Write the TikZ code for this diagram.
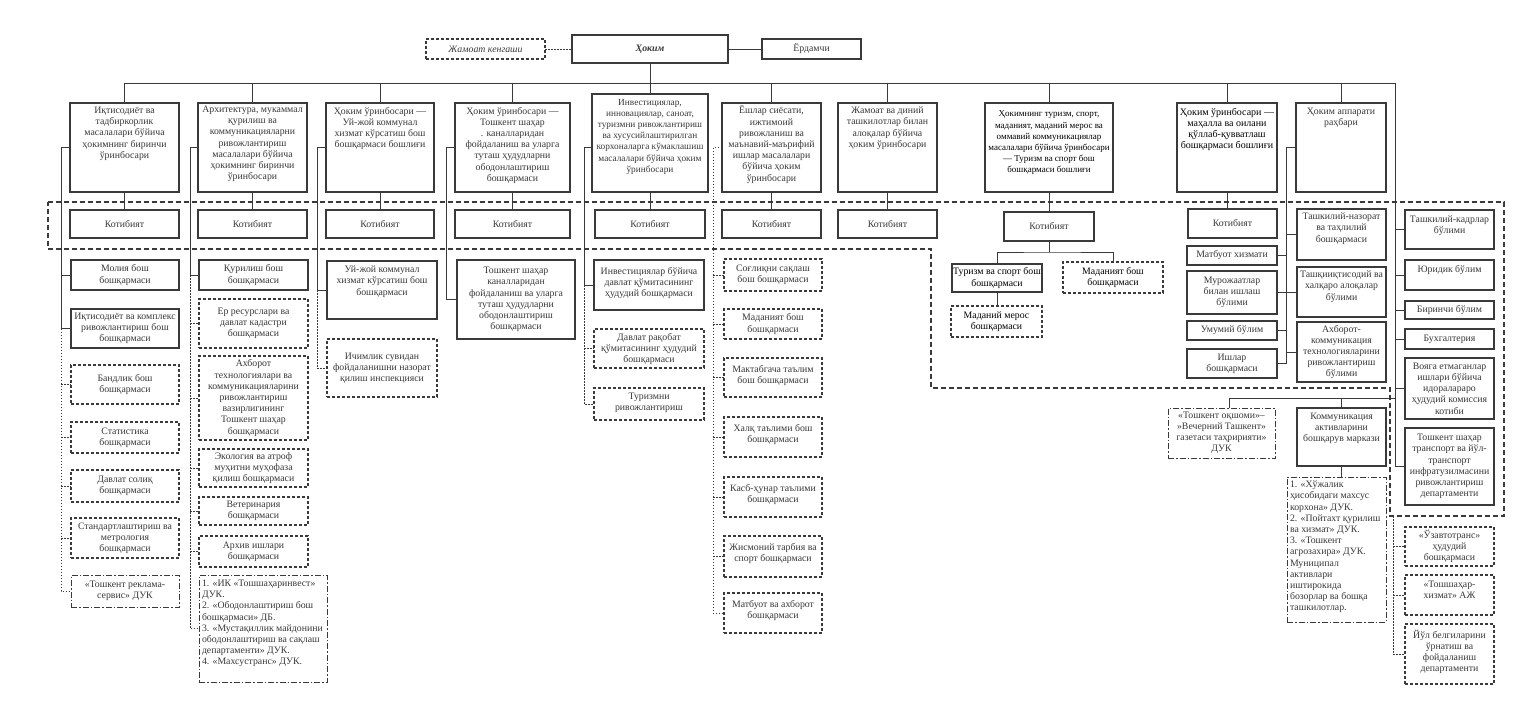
\documentclass[tikz,border=0pt]{standalone}
\usepackage{fontspec}
\setmainfont{Liberation Serif}
\definecolor{linec}{HTML}{3A3A3A}
\definecolor{txtc}{HTML}{383838}
\newcommand\cbx[7]{\node[#2,fill=white,anchor=north west,minimum width={#5pt-#3pt},minimum height={#6pt-#4pt}] (#1) at (#3,#4) {#7};}
\newcommand\tbx[8]{\node[#2,fill=white,anchor=north west,minimum width={#5pt-#3pt},minimum height={#6pt-#4pt}] (#1) at (#3,#4) {};\node[anchor=north] (#1t) at ([yshift=-#8pt]#1.north) {#7};}
\newcommand\lbx[8]{\node[#2,fill=white,anchor=north west,minimum width={#5pt-#3pt},minimum height={#6pt-#4pt}] (#1) at (#3,#4) {};\node[anchor=north west,align=left] (#1t) at ([xshift=2pt,yshift=-#8pt]#1.north west) {#7};}
\begin{document}
\begin{tikzpicture}[x=1pt,y=-1pt,
  every node/.style={inner sep=1pt, outer sep=0pt, align=center, font=\fontsize{9.8}{11.2}\selectfont, text=txtc},
  sb/.style={draw=linec, line width=1.1pt},
  bb/.style={draw=linec, line width=1.8pt},
  db/.style={draw=linec, line width=1.1pt, dash pattern=on 3pt off 2pt},
  ddb/.style={draw=linec, line width=0.9pt, dash pattern=on 6pt off 2pt on 1.5pt off 2pt},
  conn/.style={draw=linec, line width=1pt},
  dotc/.style={draw=linec, line width=0.9pt, dash pattern=on 1.5pt off 1.5pt},
  region/.style={draw=linec, line width=1.4pt, dash pattern=on 5pt off 3pt},
]
\useasboundingbox (0,0) rectangle (1537,705);
\fill[white] (0,0) rectangle (1537,705);

% dashed region
\draw[region] (48,202) -- (1504,202) -- (1504,516) -- (1390,516) -- (1390,388) -- (931,388) -- (931,249) -- (48,249) -- cycle;

% top
\cbx{hokim}{bb}{572}{35}{728}{63}{\bfseries\itshape Ҳоким}
\cbx{jamoat}{db}{426}{39}{545}{59}{\itshape Жамоат кенгаши}
\cbx{yordam}{sb}{762}{39}{861}{59}{Ёрдамчи}
\draw[dotc] (jamoat.east) -- (hokim.west);
\draw[conn] (hokim.east) -- (yordam.west);

% columns
\tbx{c1}{sb}{70}{103}{179}{192}{Иқтисодиёт ва\\тадбиркорлик\\масалалари бўйича\\ҳокимнинг биринчи\\ўринбосари}{3}
\tbx{c2}{sb}{198}{103}{307}{192}{Архитектура, мукаммал\\қурилиш ва\\коммуникацияларни\\ривожлантириш\\масалалари бўйича\\ҳокимнинг биринчи\\ўринбосари}{2}
\tbx{c3}{sb}{326}{103}{434}{192}{Ҳоким ўринбосари —\\Уй-жой коммунал\\хизмат кўрсатиш бош\\бошқармаси бошлиғи}{3}
\tbx{c4}{sb}{455}{103}{570}{192}{Ҳоким ўринбосари —\\Тошкент шаҳар\\. каналларидан\\фойдаланиш ва уларга\\туташ ҳудудларни\\ободонлаштириш\\бошқармаси}{3}
\tbx{c5}{sb}{592}{94}{708}{192}{\fontsize{9.3}{11.2}\selectfont Инвестициялар,\\\fontsize{9.3}{11.2}\selectfont инновациялар, саноат,\\\fontsize{9.3}{11.2}\selectfont туризмни ривожлантириш\\\fontsize{9.3}{11.2}\selectfont ва хусусийлаштирилган\\\fontsize{9.3}{11.2}\selectfont корхоналарга кўмаклашиш\\\fontsize{9.3}{11.2}\selectfont масалалари бўйича ҳоким\\\fontsize{9.3}{11.2}\selectfont ўринбосари}{4}
\tbx{c6}{sb}{722}{103}{821}{192}{Ёшлар сиёсати,\\ижтимоий\\ривожланиш ва\\маънавий-маърифий\\ишлар масалалари\\бўйича ҳоким\\ўринбосари}{2}
\tbx{c7}{sb}{838}{103}{937}{192}{Жамоат ва диний\\ташкилотлар билан\\алоқалар бўйича\\ҳоким ўринбосари}{3}
\tbx{c8}{sb}{985}{103}{1113}{192}{\color{black}\fontsize{9}{11}\selectfont Ҳокимнинг туризм, спорт,\\\color{black}\fontsize{9}{11}\selectfont маданият, маданий мерос ва\\\color{black}\fontsize{9}{11}\selectfont оммавий коммуникациялар\\\color{black}\fontsize{9}{11}\selectfont масалалари бўйича ўринбосари\\\color{black}\fontsize{9}{11}\selectfont — Туризм ва спорт бош\\\color{black}\fontsize{9}{11}\selectfont бошқармаси бошлиғи}{7}
\tbx{c9}{sb}{1177}{103}{1277}{192}{\color{black}\fontsize{10}{12.3}\selectfont Ҳоким ўринбосари —\\\color{black}\fontsize{10}{12.3}\selectfont маҳалла ва оилани\\\color{black}\fontsize{10}{12.3}\selectfont қўллаб-қувватлаш\\\color{black}\fontsize{10}{12.3}\selectfont бошқармаси бошлиғи}{4}
\tbx{c10}{sb}{1296}{103}{1386}{192}{Ҳоким аппарати\\раҳбари}{4}

% bus
\coordinate (busL) at (124.5,83);
\coordinate (busR) at (1395,83);

% kotibiyat
\cbx{k1}{sb}{70}{210}{179}{238}{Котибият}
\cbx{k2}{sb}{198}{210}{307}{238}{Котибият}
\cbx{k3}{sb}{326}{210}{434}{238}{Котибият}
\cbx{k4}{sb}{455}{210}{570}{238}{Котибият}
\cbx{k5}{sb}{595}{210}{705}{238}{Котибият}
\cbx{k6}{sb}{722}{210}{821}{238}{Котибият}
\cbx{k7}{sb}{838}{210}{937}{238}{Котибият}
\cbx{k8}{sb}{1004}{212}{1094}{241}{Котибият}
\cbx{k9}{sb}{1188}{209}{1277}{238}{Котибият}

% column 1 subordinates
\cbx{molia}{sb}{71}{260}{179}{290}{Молия бош\\бошқармаси}
\cbx{ikt}{sb}{71}{309}{179}{348}{Иқтисодиёт ва комплекс\\ривожлантириш бош\\бошқармаси}
\cbx{bandlik}{db}{71}{365}{179}{404}{Бандлик бош\\бошқармаси}
\cbx{stat}{db}{71}{422}{179}{453}{Статистика\\бошқармаси}
\cbx{soliq}{db}{71}{470}{179}{502}{Давлат солиқ\\бошқармаси}
\cbx{standart}{db}{71}{518}{179}{558}{Стандартлаштириш ва\\метрология\\бошқармаси}
\cbx{reklama}{ddb}{71}{575}{179}{607}{«Тошкент реклама-\\сервис» ДУК}

% column 2 subordinates
\cbx{qurilish}{sb}{199}{260}{308}{290}{Қурилиш бош\\бошқармаси}
\cbx{yer}{db}{199}{299}{308}{348}{Ер ресурслари ва\\давлат кадастри\\бошқармаси}
\cbx{axborot}{db}{199}{356}{308}{440}{Ахборот\\технологиялари ва\\коммуникацияларини\\ривожлантириш\\вазирлигининг\\Тошкент шаҳар\\бошқармаси}
\cbx{ekol}{db}{199}{449}{308}{487}{Экология ва атроф\\муҳитни муҳофаза\\қилиш бошқармаси}
\cbx{veter}{db}{199}{497}{308}{525}{Ветеринария\\бошқармаси}
\cbx{arxiv}{db}{199}{536}{308}{567}{Архив ишлари\\бошқармаси}
\lbx{listb}{ddb}{199}{575}{327}{682}{1. «ИК «Тошшаҳаринвест»\\ДУК.\\2. «Ободонлаштириш бош\\бошқармаси» ДБ.\\3. «Мустақиллик майдонини\\ободонлаштириш ва сақлаш\\департаменти» ДУК.\\4. «Махсустранс» ДУК.}{4}

% column 3
\tbx{uyjoy}{sb}{327}{261}{437}{319}{Уй-жой коммунал\\хизмат кўрсатиш бош\\бошқармаси}{4}
\cbx{ichimlik}{db}{327}{339}{437}{397}{Ичимлик сувидан\\фойдаланишни назорат\\қилиш инспекцияси}

% column 4
\cbx{kanal}{sb}{457}{260}{575}{339}{Тошкент шаҳар\\каналларидан\\фойдаланиш ва уларга\\туташ ҳудудларни\\ободонлаштириш\\бошқармаси}

% column 5
\tbx{invest}{sb}{594}{260}{704}{310}{Инвестициялар бўйича\\давлат қўмитасининг\\ҳудудий бошқармаси}{6}
\tbx{raqobat}{db}{594}{329}{704}{368}{Давлат рақобат\\қўмитасининг ҳудудий\\бошқармаси}{3}
\tbx{turizmni}{db}{594}{388}{704}{420}{Туризмни\\ривожлантириш}{4}

% column 6
\cbx{sogliq}{db}{724}{259}{822}{291}{Соғлиқни сақлаш\\бош бошқармаси}
\cbx{madaniyat}{db}{724}{309}{822}{339}{Маданият бош\\бошқармаси}
\tbx{maktab}{db}{724}{358}{822}{397}{Мактабгача таълим\\бош бошқармаси}{6}
\tbx{xalq}{db}{724}{417}{822}{457}{Халқ таълими бош\\бошқармаси}{6}
\tbx{kasb}{db}{724}{477}{822}{517}{Касб-ҳунар таълими\\бошқармаси}{6}
\tbx{jismoniy}{db}{724}{536}{822}{577}{Жисмоний тарбия ва\\спорт бошқармаси}{6}
\tbx{matb6}{db}{724}{593}{822}{633}{Матбуот ва ахборот\\бошқармаси}{6}

% column 8
\cbx{tursport}{bb}{952}{264}{1042}{292}{\color{black}Туризм ва спорт бош\\\color{black}бошқармаси}
\cbx{madb}{db}{1063}{262}{1163}{293}{\color{black}Маданият бош\\\color{black}бошқармаси}
\cbx{mmeros}{db}{951}{306}{1042}{337}{\color{black}Маданий мерос\\\color{black}бошқармаси}

% hokim apparati left
\cbx{mat}{sb}{1187}{246}{1277}{265}{Матбуот хизмати}
\cbx{muroj}{sb}{1187}{271}{1277}{314}{Мурожаатлар\\билан ишлаш\\бўлими}
\cbx{umumiy}{sb}{1187}{321}{1277}{340}{Умумий бўлим}
\cbx{ishlar}{sb}{1187}{349}{1277}{378}{Ишлар\\бошқармаси}
\tbx{tashn}{sb}{1297}{209}{1386}{260}{Ташкилий-назорат\\ва таҳлилий\\бошқармаси}{3}
\tbx{tashq}{sb}{1297}{267}{1386}{317}{Ташқииқтисодий ва\\халқаро алоқалар\\бўлими}{3}
\cbx{axb}{sb}{1297}{322}{1386}{382}{Ахборот-\\коммуникация\\технологияларини\\ривожлантириш\\бўлими}

% right column
\tbx{tk}{sb}{1405}{210}{1494}{249}{Ташкилий-кадрлар\\бўлими}{5}
\tbx{yur}{sb}{1405}{260}{1494}{290}{Юридик бўлим}{4}
\cbx{bir}{sb}{1405}{301}{1494}{319}{Биринчи бўлим}
\cbx{bux}{sb}{1405}{329}{1494}{349}{Бухгалтерия}
\cbx{voy}{sb}{1405}{358}{1494}{419}{Вояга етмаганлар\\ишлари бўйича\\идоралараро\\ҳудудий комиссия\\котиби}
\cbx{trans}{sb}{1405}{428}{1494}{505}{Тошкент шаҳар\\транспорт ва йўл-\\транспорт\\инфратузилмасини\\ривожлантириш\\департаменти}
\cbx{uzav}{db}{1405}{527}{1494}{566}{«Ўзавтотранс»\\ҳудудий\\бошқармаси}
\tbx{toshx}{db}{1405}{575}{1494}{615}{«Тошшаҳар-\\хизмат» АЖ}{5}
\tbx{yul}{db}{1405}{624}{1494}{684}{Йўл белгиларини\\ўрнатиш ва\\фойдаланиш\\департаменти}{5}

% lower right
\cbx{oqshom}{ddb}{1168}{408}{1275}{458}{«Тошкент оқшоми»–\\»Вечерний Ташкент»\\газетаси таҳририяти»\\ДУК}
\tbx{kom}{sb}{1297}{408}{1386}{466}{Коммуникация\\активларини\\бошқарув маркази}{4}
\lbx{listk}{ddb}{1287}{477}{1386}{622}{1. «Хўжалик\\ҳисобидаги махсус\\корхона» ДУК.\\2. «Пойтахт қурилиш\\ва хизмат» ДУК.\\3. «Тошкент\\агрозахира» ДУК.\\Муниципал\\активлари\\иштирокида\\бозорлар ва бошқа\\ташкилотлар.}{3}

% ---- connectors ----
\draw[conn] (busL) -- (busR) |- (trans.west);
\foreach \c in {c1,c2,c3,c4,c6,c7,c8,c9,c10} \draw[conn] (\c.north) -- (\c.north |- busL);
\draw[conn] (hokim.south) -- (c5.north);
\foreach \i in {1,...,9} \draw[conn] (c\i.south) -- (c\i.south |- k\i.north);

% col1
\coordinate (v1) at (61,147);
\draw[conn] (c1.west) -| (v1 |- ikt.west) -- (ikt.west);
\draw[conn] (v1 |- molia.west) -- (molia.west);
\draw[dotc] (v1 |- ikt.west) |- (reklama.west);
\foreach \n in {bandlik,stat,soliq,standart} \draw[dotc] (v1 |- \n.west) -- (\n.west);
% col2
\coordinate (v2) at (190,147);
\draw[conn] (c2.west) -| (v2 |- qurilish.west) -- (qurilish.west);
\draw[dotc] (v2 |- qurilish.west) |- (listb.west);
\foreach \n in {yer,axborot,ekol,veter,arxiv} \draw[dotc] (v2 |- \n.west) -- (\n.west);
% col3
\coordinate (v3) at (317,147);
\draw[conn] (c3.west) -| (v3 |- uyjoy.west) -- (uyjoy.west);
\draw[dotc] (v3 |- uyjoy.west) |- (ichimlik.west);
% col4
\coordinate (v4) at (446,147);
\draw[conn] (c4.west) -| (v4 |- kanal.west) -- (kanal.west);
% col5
\coordinate (v5) at (584,147);
\draw[conn] (c5.west |- v5) -| (v5 |- invest.west) -- (invest.west);
\draw[dotc] (v5 |- invest.west) |- (turizmni.west);
\draw[dotc] (v5 |- raqobat.west) -- (raqobat.west);
% col6
\coordinate (v6) at (713,147);
\draw[dotc] (c6.west) -| (v6 |- matb6.west) -- (matb6.west);
\foreach \n in {sogliq,madaniyat,maktab,xalq,kasb,jismoniy} \draw[dotc] (v6 |- \n.west) -- (\n.west);
% col8
\coordinate (h8) at (1049,252);
\draw[conn] (k8.south) -- (h8);
\draw[conn] (tursport.north) |- (h8) -| (madb.north);
\draw[conn] (tursport.south) -- (tursport.south |- mmeros.north);
% hokim apparati
\coordinate (v10) at (1286,147);
\draw[conn] (c10.west) -| (v10 |- ishlar.east) -- (ishlar.east);
\foreach \n in {mat,muroj,umumiy} \draw[conn] (v10 |- \n.east) -- (\n.east);
\foreach \n in {tashn,tashq,axb} \draw[conn] (v10 |- \n.west) -- (\n.west);
\foreach \n in {tk,yur,bir,bux,voy} \draw[conn] (busR |- \n.west) -- (\n.west);
\coordinate (h10) at (1395,398);
\draw[conn] (h10) -| ([xshift=8pt]oqshom.north);
\draw[conn] (kom.north) |- (h10);
\draw[conn] (kom.south) -- (kom.south |- listk.north);
\coordinate (tv) at (1393,516);
\draw[dotc] (tv) |- (yul.west);
\draw[dotc] (tv |- uzav.west) -- (uzav.west);
\draw[dotc] (tv |- toshx.west) -- (toshx.west);
\end{tikzpicture}
\end{document}
